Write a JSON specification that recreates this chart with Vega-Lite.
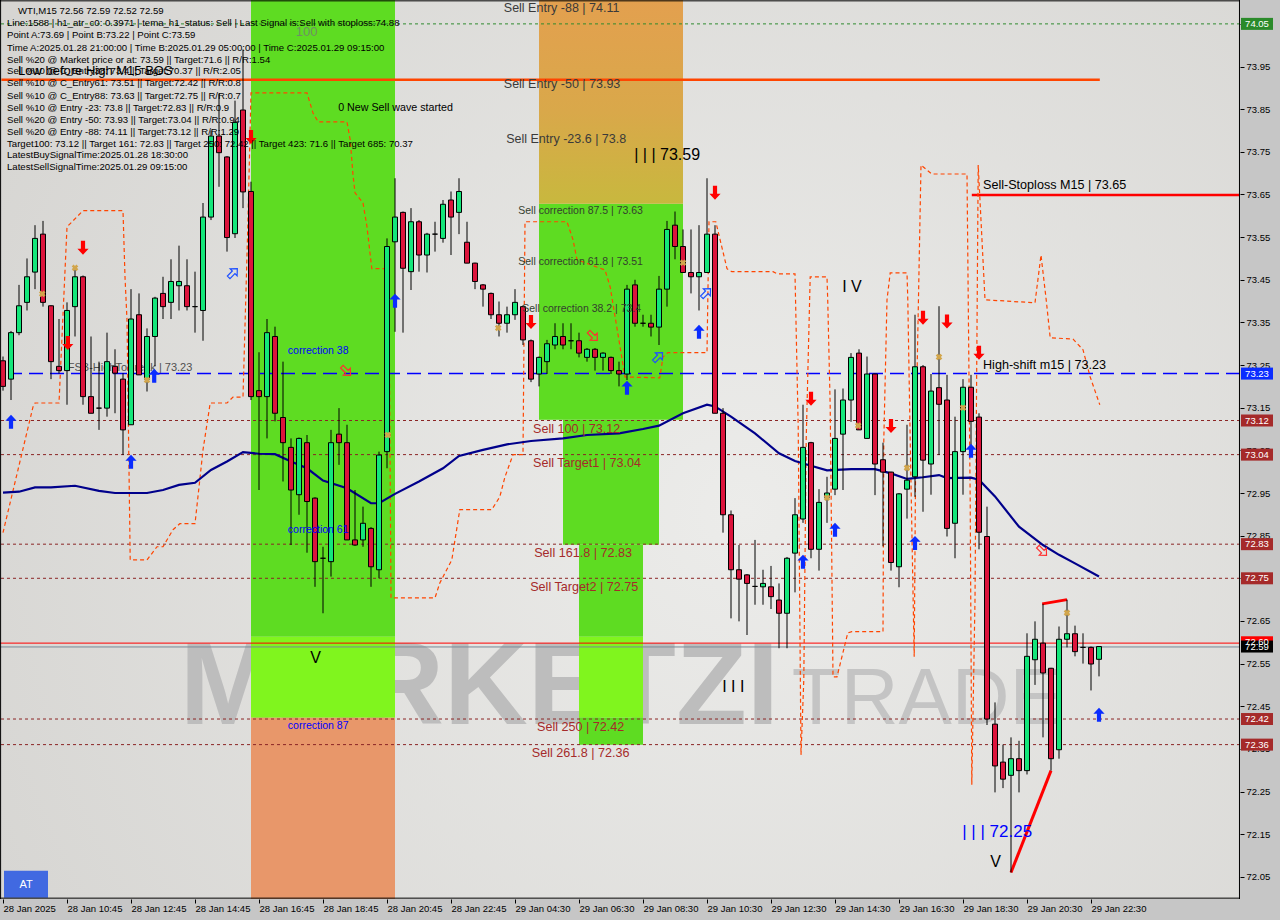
{
"$schema":"https://vega.github.io/schema/vega-lite/v6.json",
"width":1240,"height":899,
"autosize":{"type":"none"},
"padding":{"left":0,"top":0,"right":40,"bottom":21},
"background":"#c6c6c6",
"config":{"view":{"fill":"#dcdbd8","stroke":null},"font":"Liberation Sans","scale":{"continuousPadding":0}},
"datasets":{
"candles":[
{"i":0,"o":73.26,"h":73.27,"l":73.19,"c":73.2},
{"i":1,"o":73.217,"h":73.33,"l":73.168,"c":73.326},
{"i":2,"o":73.326,"h":73.438,"l":73.32,"c":73.389},
{"i":3,"o":73.397,"h":73.5,"l":73.378,"c":73.457},
{"i":4,"o":73.468,"h":73.578,"l":73.428,"c":73.547},
{"i":5,"o":73.557,"h":73.588,"l":73.387,"c":73.397},
{"i":6,"o":73.389,"h":73.39,"l":73.217,"c":73.258},
{"i":7,"o":73.247,"h":73.358,"l":73.23,"c":73.237},
{"i":8,"o":73.237,"h":73.397,"l":73.157,"c":73.378},
{"i":9,"o":73.387,"h":73.473,"l":73.317,"c":73.457},
{"i":10,"o":73.457,"h":73.46,"l":73.157,"c":73.176},
{"i":11,"o":73.176,"h":73.317,"l":73.137,"c":73.137},
{"i":12,"o":73.149,"h":73.258,"l":73.098,"c":73.149},
{"i":13,"o":73.149,"h":73.326,"l":73.129,"c":73.258},
{"i":14,"o":73.247,"h":73.287,"l":73.137,"c":73.231},
{"i":15,"o":73.217,"h":73.231,"l":73.039,"c":73.098},
{"i":16,"o":73.11,"h":73.428,"l":73.11,"c":73.358},
{"i":17,"o":73.368,"h":73.418,"l":73.227,"c":73.227},
{"i":18,"o":73.217,"h":73.336,"l":73.188,"c":73.317},
{"i":19,"o":73.317,"h":73.41,"l":73.247,"c":73.407},
{"i":20,"o":73.418,"h":73.457,"l":73.358,"c":73.387},
{"i":21,"o":73.397,"h":73.498,"l":73.358,"c":73.446},
{"i":22,"o":73.436,"h":73.53,"l":73.378,"c":73.446},
{"i":23,"o":73.436,"h":73.498,"l":73.378,"c":73.387},
{"i":24,"o":73.387,"h":73.469,"l":73.326,"c":73.387},
{"i":25,"o":73.378,"h":73.63,"l":73.307,"c":73.597},
{"i":26,"o":73.597,"h":73.8,"l":73.59,"c":73.787},
{"i":27,"o":73.787,"h":73.886,"l":73.668,"c":73.748},
{"i":28,"o":73.738,"h":73.74,"l":73.516,"c":73.549},
{"i":29,"o":73.558,"h":73.87,"l":73.548,"c":73.819},
{"i":30,"o":73.848,"h":73.99,"l":73.618,"c":73.656},
{"i":31,"o":73.657,"h":73.68,"l":73.168,"c":73.176},
{"i":32,"o":73.19,"h":73.28,"l":72.957,"c":73.176},
{"i":33,"o":73.176,"h":73.358,"l":73.078,"c":73.326},
{"i":34,"o":73.317,"h":73.34,"l":73.118,"c":73.137},
{"i":35,"o":73.127,"h":73.258,"l":72.977,"c":73.068},
{"i":36,"o":73.057,"h":73.078,"l":72.828,"c":72.957},
{"i":37,"o":72.946,"h":73.08,"l":72.899,"c":73.078},
{"i":38,"o":73.068,"h":73.086,"l":72.81,"c":72.93},
{"i":39,"o":72.938,"h":72.94,"l":72.73,"c":72.789},
{"i":40,"o":72.797,"h":72.824,"l":72.668,"c":72.797},
{"i":41,"o":72.789,"h":73.098,"l":72.754,"c":73.068},
{"i":42,"o":73.088,"h":73.149,"l":73.016,"c":73.068},
{"i":43,"o":73.068,"h":73.11,"l":72.84,"c":72.84},
{"i":44,"o":72.84,"h":72.957,"l":72.826,"c":72.828},
{"i":45,"o":72.84,"h":72.918,"l":72.824,"c":72.879},
{"i":46,"o":72.867,"h":72.87,"l":72.73,"c":72.777},
{"i":47,"o":72.77,"h":73.047,"l":72.75,"c":73.039},
{"i":48,"o":73.047,"h":73.547,"l":73.008,"c":73.528},
{"i":49,"o":73.539,"h":73.688,"l":73.328,"c":73.597},
{"i":50,"o":73.608,"h":73.61,"l":73.326,"c":73.477},
{"i":51,"o":73.469,"h":73.618,"l":73.426,"c":73.586},
{"i":52,"o":73.586,"h":73.59,"l":73.469,"c":73.508},
{"i":53,"o":73.508,"h":73.56,"l":73.467,"c":73.557},
{"i":54,"o":73.557,"h":73.586,"l":73.516,"c":73.557},
{"i":55,"o":73.547,"h":73.637,"l":73.537,"c":73.627},
{"i":56,"o":73.637,"h":73.657,"l":73.508,"c":73.597},
{"i":57,"o":73.608,"h":73.688,"l":73.557,"c":73.657},
{"i":58,"o":73.538,"h":73.586,"l":73.489,"c":73.489},
{"i":59,"o":73.489,"h":73.49,"l":73.428,"c":73.446},
{"i":60,"o":73.438,"h":73.44,"l":73.387,"c":73.428},
{"i":61,"o":73.418,"h":73.42,"l":73.358,"c":73.368},
{"i":62,"o":73.368,"h":73.399,"l":73.317,"c":73.348},
{"i":63,"o":73.348,"h":73.387,"l":73.326,"c":73.368},
{"i":64,"o":73.368,"h":73.428,"l":73.356,"c":73.397},
{"i":65,"o":73.387,"h":73.39,"l":73.297,"c":73.309},
{"i":66,"o":73.307,"h":73.31,"l":73.21,"c":73.217},
{"i":67,"o":73.229,"h":73.27,"l":73.2,"c":73.268},
{"i":68,"o":73.258,"h":73.309,"l":73.229,"c":73.3},
{"i":69,"o":73.297,"h":73.348,"l":73.287,"c":73.317},
{"i":70,"o":73.317,"h":73.348,"l":73.287,"c":73.297},
{"i":71,"o":73.307,"h":73.348,"l":73.287,"c":73.307},
{"i":72,"o":73.307,"h":73.326,"l":73.268,"c":73.278},
{"i":73,"o":73.268,"h":73.29,"l":73.258,"c":73.287},
{"i":74,"o":73.287,"h":73.29,"l":73.237,"c":73.268},
{"i":75,"o":73.268,"h":73.28,"l":73.237,"c":73.278},
{"i":76,"o":73.268,"h":73.27,"l":73.229,"c":73.237},
{"i":77,"o":73.237,"h":73.258,"l":73.2,"c":73.229},
{"i":78,"o":73.229,"h":73.438,"l":73.215,"c":73.428},
{"i":79,"o":73.438,"h":73.45,"l":73.34,"c":73.348},
{"i":80,"o":73.348,"h":73.368,"l":73.34,"c":73.348},
{"i":81,"o":73.348,"h":73.368,"l":73.317,"c":73.339},
{"i":82,"o":73.339,"h":73.459,"l":73.297,"c":73.428},
{"i":83,"o":73.428,"h":73.588,"l":73.387,"c":73.568},
{"i":84,"o":73.578,"h":73.61,"l":73.498,"c":73.528},
{"i":85,"o":73.528,"h":73.568,"l":73.467,"c":73.467},
{"i":86,"o":73.467,"h":73.568,"l":73.418,"c":73.457},
{"i":87,"o":73.457,"h":73.578,"l":73.378,"c":73.467},
{"i":88,"o":73.467,"h":73.688,"l":73.467,"c":73.557},
{"i":89,"o":73.557,"h":73.578,"l":73.137,"c":73.137},
{"i":90,"o":73.137,"h":73.149,"l":72.857,"c":72.899},
{"i":91,"o":72.899,"h":72.909,"l":72.656,"c":72.77},
{"i":92,"o":72.77,"h":72.828,"l":72.649,"c":72.748},
{"i":93,"o":72.758,"h":72.76,"l":72.617,"c":72.738},
{"i":94,"o":72.731,"h":72.84,"l":72.688,"c":72.731},
{"i":95,"o":72.73,"h":72.77,"l":72.688,"c":72.738},
{"i":96,"o":72.73,"h":72.779,"l":72.678,"c":72.707},
{"i":97,"o":72.699,"h":72.738,"l":72.586,"c":72.668},
{"i":98,"o":72.668,"h":72.8,"l":72.586,"c":72.797},
{"i":99,"o":72.809,"h":72.938,"l":72.717,"c":72.899},
{"i":100,"o":72.889,"h":73.157,"l":72.88,"c":73.057},
{"i":101,"o":73.068,"h":73.07,"l":72.797,"c":72.818},
{"i":102,"o":72.818,"h":72.959,"l":72.768,"c":72.928},
{"i":103,"o":72.94,"h":72.988,"l":72.88,"c":72.95},
{"i":104,"o":72.959,"h":73.193,"l":72.945,"c":73.078},
{"i":105,"o":73.088,"h":73.195,"l":72.957,"c":73.168},
{"i":106,"o":73.168,"h":73.278,"l":73.117,"c":73.268},
{"i":107,"o":73.278,"h":73.287,"l":73.098,"c":73.098},
{"i":108,"o":73.078,"h":73.27,"l":73.078,"c":73.229},
{"i":109,"o":73.229,"h":73.23,"l":72.945,"c":73.018},
{"i":110,"o":73.028,"h":73.068,"l":72.825,"c":72.999},
{"i":111,"o":72.999,"h":73.0,"l":72.768,"c":72.787},
{"i":112,"o":72.777,"h":72.95,"l":72.729,"c":72.948},
{"i":113,"o":72.959,"h":73.11,"l":72.89,"c":72.98},
{"i":114,"o":72.988,"h":73.368,"l":72.941,"c":73.246},
{"i":115,"o":73.246,"h":73.25,"l":72.906,"c":73.027},
{"i":116,"o":73.018,"h":73.229,"l":72.946,"c":73.189},
{"i":117,"o":73.197,"h":73.388,"l":73.039,"c":73.158},
{"i":118,"o":73.168,"h":73.227,"l":72.848,"c":72.867},
{"i":119,"o":72.879,"h":73.129,"l":72.797,"c":73.047},
{"i":120,"o":73.047,"h":73.217,"l":72.946,"c":73.198},
{"i":121,"o":73.198,"h":73.227,"l":73.055,"c":73.118},
{"i":122,"o":73.128,"h":73.137,"l":72.818,"c":72.858},
{"i":123,"o":72.848,"h":72.918,"l":72.406,"c":72.42},
{"i":124,"o":72.408,"h":72.459,"l":72.248,"c":72.31},
{"i":125,"o":72.319,"h":72.36,"l":72.258,"c":72.279},
{"i":126,"o":72.288,"h":72.377,"l":72.06,"c":72.327},
{"i":127,"o":72.327,"h":72.369,"l":72.248,"c":72.299},
{"i":128,"o":72.299,"h":72.621,"l":72.29,"c":72.567},
{"i":129,"o":72.559,"h":72.649,"l":72.5,"c":72.607},
{"i":130,"o":72.598,"h":72.69,"l":72.377,"c":72.528},
{"i":131,"o":72.539,"h":72.54,"l":72.299,"c":72.327},
{"i":132,"o":72.348,"h":72.637,"l":72.327,"c":72.607},
{"i":133,"o":72.607,"h":72.7,"l":72.588,"c":72.62},
{"i":134,"o":72.62,"h":72.639,"l":72.567,"c":72.578},
{"i":135,"o":72.588,"h":72.621,"l":72.55,"c":72.588},
{"i":136,"o":72.588,"h":72.59,"l":72.487,"c":72.549},
{"i":137,"o":72.56,"h":72.59,"l":72.52,"c":72.59}
],
"ma":[
{"i":0,"p":72.951},{"i":2,"p":72.953},{"i":4,"p":72.963},{"i":6,"p":72.963},{"i":9,"p":72.967},{"i":12,"p":72.955},{"i":14,"p":72.95},{"i":16,"p":72.95},{"i":18,"p":72.95},{"i":20,"p":72.957},{"i":22,"p":72.969},{"i":24,"p":72.974},{"i":26,"p":73.004},{"i":28,"p":73.024},{"i":30,"p":73.046},{"i":32,"p":73.042},{"i":34,"p":73.041},{"i":36,"p":73.024},{"i":38,"p":73.008},{"i":40,"p":72.979},{"i":43,"p":72.961},{"i":46,"p":72.926},{"i":47,"p":72.926},{"i":49,"p":72.948},{"i":52,"p":72.977},{"i":55,"p":73.008},{"i":57,"p":73.037},{"i":60,"p":73.051},{"i":63,"p":73.064},{"i":66,"p":73.072},{"i":70,"p":73.078},{"i":73,"p":73.086},{"i":77,"p":73.09},{"i":80,"p":73.1},{"i":82,"p":73.108},{"i":85,"p":73.137},{"i":88,"p":73.157},{"i":89,"p":73.153},{"i":91,"p":73.129},{"i":94,"p":73.09},{"i":97,"p":73.043},{"i":99,"p":73.025},{"i":101,"p":73.014},{"i":103,"p":73.003},{"i":106,"p":73.006},{"i":109,"p":73.006},{"i":111,"p":72.996},{"i":113,"p":72.983},{"i":115,"p":72.987},{"i":117,"p":72.992},{"i":118,"p":72.985},{"i":121,"p":72.986},{"i":122,"p":72.981},{"i":124,"p":72.942},{"i":127,"p":72.871},{"i":130,"p":72.828},{"i":132,"p":72.805},{"i":134,"p":72.785},{"i":137,"p":72.754}
],
"trail":[
{"i":0,"p":72.857},{"i":3.75,"p":73.152},{"i":4,"p":73.161},{"i":7,"p":73.161},{"i":8,"p":73.574},{"i":10,"p":73.612},{"i":15,"p":73.612},{"i":15.25,"p":73.457},{"i":15.5,"p":73.356},{"i":15.9,"p":72.793},{"i":18,"p":72.793},{"i":19.25,"p":72.824},{"i":20,"p":72.824},{"i":21.25,"p":72.864},{"i":22.1,"p":72.878},{"i":24,"p":72.878},{"i":24.6,"p":72.981},{"i":25,"p":73.051},{"i":25.9,"p":73.161},{"i":28,"p":73.161},{"i":28.75,"p":73.175},{"i":30,"p":73.175},{"i":30.6,"p":73.574},{"i":31,"p":73.888},{"i":38,"p":73.888},{"i":38.75,"p":73.841},{"i":39.4,"p":73.82},{"i":43,"p":73.82},{"i":43.4,"p":73.778},{"i":43.75,"p":73.696},{"i":44,"p":73.654},{"i":45,"p":73.63},{"i":45.5,"p":73.574},{"i":46.1,"p":73.476},{"i":47.9,"p":73.476},{"i":48.25,"p":73.403},{"i":48.5,"p":72.704},{"i":54,"p":72.704},{"i":54.6,"p":72.739},{"i":56.1,"p":72.793},{"i":56.5,"p":72.84},{"i":57.1,"p":72.911},{"i":61.1,"p":72.911},{"i":62.1,"p":72.941},{"i":62.75,"p":72.988},{"i":63.75,"p":73.04},{"i":65,"p":73.04},{"i":65.25,"p":73.586},{"i":70.5,"p":73.586},{"i":71.25,"p":73.544},{"i":71.75,"p":73.497},{"i":75.25,"p":73.473},{"i":75.9,"p":73.433},{"i":77.4,"p":73.262},{"i":77.75,"p":73.222},{"i":82.1,"p":73.22},{"i":82.5,"p":73.269},{"i":83.1,"p":73.279},{"i":88,"p":73.279},{"i":88.25,"p":73.586},{"i":89.1,"p":73.586},{"i":90.5,"p":73.476},{"i":91.1,"p":73.469},{"i":96.25,"p":73.469},{"i":96.75,"p":73.464},{"i":99,"p":73.464},{"i":99.4,"p":73.105},{"i":99.75,"p":72.336},{"i":100.1,"p":72.512},{"i":100.4,"p":73.075},{"i":100.9,"p":73.457},{"i":103,"p":73.457},{"i":103.1,"p":73.396},{"i":103.4,"p":73.152},{"i":103.75,"p":72.519},{"i":104.25,"p":72.519},{"i":105.6,"p":72.622},{"i":106.1,"p":72.625},{"i":110,"p":72.625},{"i":110.1,"p":73.075},{"i":110.5,"p":73.403},{"i":110.9,"p":73.466},{"i":113,"p":73.466},{"i":113.1,"p":73.403},{"i":113.4,"p":73.075},{"i":113.9,"p":72.566},{"i":114.1,"p":73.075},{"i":114.75,"p":73.719},{"i":116.1,"p":73.698},{"i":120.5,"p":73.698},{"i":120.9,"p":72.934},{"i":121.1,"p":72.266},{"i":121.5,"p":72.7},{"i":121.9,"p":73.719},{"i":122.75,"p":73.403},{"i":129,"p":73.396},{"i":129.75,"p":73.508},{"i":130.4,"p":73.403},{"i":130.9,"p":73.314},{"i":133.75,"p":73.311},{"i":135,"p":73.286},{"i":135.9,"p":73.222},{"i":137.1,"p":73.157}
],
"zones":[
{"i0":31,"i1":49,"p0":72.6127,"p1":74.106,"kind":"green"},
{"i0":31,"i1":49,"p0":72.4228,"p1":72.6127,"kind":"lime"},
{"i0":31,"i1":49,"p0":71.998,"p1":72.4228,"kind":"orange"},
{"i0":67,"i1":85,"p0":73.1215,"p1":73.628,"kind":"green"},
{"i0":70,"i1":82,"p0":72.8285,"p1":73.1215,"kind":"green"},
{"i0":72,"i1":80,"p0":72.6127,"p1":72.8285,"kind":"green"},
{"i0":72,"i1":80,"p0":72.4228,"p1":72.6127,"kind":"lime"},
{"i0":72,"i1":80,"p0":72.3595,"p1":72.4228,"kind":"green"}
],
"labels":[
{"i":1.875,"p":74.081,"text":"WTI,M15  72.56 72.59 72.52 72.59","kind":"info"},
{"i":0.5,"p":74.052,"text":"Line:1588 | h1_atr_c0: 0.3971 | tema_h1_status: Sell | Last Signal is:Sell with stoploss:74.88","kind":"info"},
{"i":0.5,"p":74.0235,"text":"Point A:73.69 | Point B:73.22 | Point C:73.59","kind":"info"},
{"i":0.5,"p":73.9945,"text":"Time A:2025.01.28 21:00:00 | Time B:2025.01.29 05:00:00 | Time C:2025.01.29 09:15:00","kind":"info"},
{"i":0.5,"p":73.9663,"text":"Sell %20 @ Market price or at: 73.59 || Target:71.6 || R/R:1.54","kind":"info"},
{"i":0.5,"p":73.9391,"text":"Sell %10 @ C_Entry38: 73.4 || Target:70.37 || R/R:2.05","kind":"info"},
{"i":0.5,"p":73.911,"text":"Sell %10 @ C_Entry61: 73.51 || Target:72.42 || R/R:0.8","kind":"info"},
{"i":0.5,"p":73.8819,"text":"Sell %10 @ C_Entry88: 73.63 || Target:72.75 || R/R:0.7","kind":"info"},
{"i":0.5,"p":73.8538,"text":"Sell %10 @ Entry -23: 73.8 || Target:72.83 || R/R:0.9","kind":"info"},
{"i":0.5,"p":73.8256,"text":"Sell %20 @ Entry -50: 73.93 || Target:73.04 || R/R:0.94","kind":"info"},
{"i":0.5,"p":73.7975,"text":"Sell %20 @ Entry -88: 74.11 || Target:73.12 || R/R:1.29","kind":"info"},
{"i":0.5,"p":73.7694,"text":"Target100: 73.12 || Target 161: 72.83 || Target 250: 72.42 || Target 423: 71.6 || Target 685: 70.37","kind":"info"},
{"i":0.5,"p":73.7422,"text":"LatestBuySignalTime:2025.01.28 18:30:00","kind":"info"},
{"i":0.5,"p":73.714,"text":"LatestSellSignalTime:2025.01.29 09:15:00","kind":"info"},
{"i":1.875,"p":73.94,"text":"Low before High  M15 BOS","kind":"big"},
{"i":36.6,"p":74.031,"text":"100","kind":"hundred"},
{"i":41.9,"p":73.853,"text":"0 New Sell wave started","kind":"wave0"},
{"i":62.6,"p":74.088,"text":"Sell Entry -88 | 74.11","kind":"zone"},
{"i":62.6,"p":73.909,"text":"Sell Entry -50 | 73.93","kind":"zone"},
{"i":62.9,"p":73.78,"text":"Sell Entry -23.6 | 73.8","kind":"zone"},
{"i":78.9,"p":73.743,"text":"| | | 73.59","kind":"wave"},
{"i":64.4,"p":73.612,"text":"Sell correction 87.5 | 73.63","kind":"corr"},
{"i":64.4,"p":73.492,"text":"Sell correction 61.8 | 73.51","kind":"corr"},
{"i":64.9,"p":73.382,"text":"Sell correction 38.2 | 73.4","kind":"corr"},
{"i":66.25,"p":73.1,"text":"Sell 100 | 73.12","kind":"target"},
{"i":66.25,"p":73.021,"text":"Sell Target1 | 73.04","kind":"target"},
{"i":66.4,"p":72.81,"text":"Sell 161.8 | 72.83","kind":"target"},
{"i":65.9,"p":72.73,"text":"Sell Target2 | 72.75","kind":"target"},
{"i":66.75,"p":72.402,"text":"Sell  250 | 72.42","kind":"target"},
{"i":66.1,"p":72.341,"text":"Sell  261.8 | 72.36","kind":"target"},
{"i":35.6,"p":73.283,"text":"correction 38","kind":"blue"},
{"i":35.6,"p":72.864,"text":"correction 61","kind":"blue"},
{"i":35.6,"p":72.404,"text":"correction 87","kind":"blue"},
{"i":38.4,"p":72.564,"text":"V","kind":"wave"},
{"i":104.9,"p":73.433,"text":"I V","kind":"wave"},
{"i":89.9,"p":72.496,"text":"I I I","kind":"wave"},
{"i":119.9,"p":72.156,"text":"| | | 72.25","kind":"wblue"},
{"i":123.4,"p":72.085,"text":"V","kind":"wave"},
{"i":122.5,"p":73.251,"text":"High-shift m15 | 73.23","kind":"note"},
{"i":122.5,"p":73.673,"text":"Sell-Stoploss M15 | 73.65","kind":"note"}
],
"arrowsUp":[{"i":1,"p":73.117},{"i":16,"p":73.023},{"i":18.9,"p":73.225},{"i":49,"p":73.401},{"i":78,"p":73.197},{"i":87,"p":73.328},{"i":100,"p":72.789},{"i":104,"p":72.864},{"i":114,"p":72.833},{"i":121,"p":73.049},{"i":137,"p":72.43}],
"arrowsDown":[{"i":10,"p":73.525},{"i":8.1,"p":73.302},{"i":31,"p":73.785},{"i":66,"p":73.351},{"i":89,"p":73.654},{"i":101,"p":73.171},{"i":111,"p":73.107},{"i":115,"p":73.361},{"i":118,"p":73.352},{"i":122,"p":73.279}],
"hollowBlue":[{"i":28.75,"p":73.466},{"i":81.9,"p":73.269},{"i":87.9,"p":73.419}],
"hollowRed":[{"i":42.9,"p":73.236},{"i":73.75,"p":73.318},{"i":129.9,"p":72.814}],
"stars":[{"i":4.9,"p":73.417},{"i":9,"p":73.478},{"i":18,"p":73.215},{"i":48.1,"p":73.086},{"i":61.9,"p":73.337},{"i":85,"p":73.49},{"i":103,"p":72.939},{"i":106.9,"p":73.108},{"i":113,"p":73.009},{"i":117,"p":73.269},{"i":120,"p":73.15},{"i":133,"p":72.669}],
"boxes":[{"p":74.05,"kind":"green"},{"p":73.23,"kind":"blue"},{"p":73.12,"kind":"brown"},{"p":73.04,"kind":"brown"},{"p":72.83,"kind":"brown"},{"p":72.75,"kind":"brown"},{"p":72.42,"kind":"brown"},{"p":72.36,"kind":"brown"},{"p":72.6,"kind":"red"},{"p":72.59,"kind":"black"}]
},
"layer":[
{"data":{"values":[{"i":0}]},
 "mark":{"type":"rect","color":{"gradient":"radial","x1":0.6,"y1":0.55,"r1":0,"x2":0.6,"y2":0.55,"r2":0.7,"stops":[{"offset":0,"color":"#ececea"},{"offset":1,"color":"#d6d5d2"}]}},
 "encoding":{
  "x":{"datum":-0.375,"type":"quantitative","scale":{"domain":[-0.375,154.625],"nice":false,"zero":false,"padding":0},
   "axis":{"orient":"bottom","values":[0,8,16,24,32,40,48,56,64,72,80,88,96,104,112,120,128,136],
   "labelExpr":"datum.value==0?'28 Jan 2025':datum.value==8?'28 Jan 10:45':datum.value==16?'28 Jan 12:45':datum.value==24?'28 Jan 14:45':datum.value==32?'28 Jan 16:45':datum.value==40?'28 Jan 18:45':datum.value==48?'28 Jan 20:45':datum.value==56?'28 Jan 22:45':datum.value==64?'29 Jan 04:30':datum.value==72?'29 Jan 06:30':datum.value==80?'29 Jan 08:30':datum.value==88?'29 Jan 10:30':datum.value==96?'29 Jan 12:30':datum.value==104?'29 Jan 14:30':datum.value==112?'29 Jan 16:30':datum.value==120?'29 Jan 18:30':datum.value==128?'29 Jan 20:30':'29 Jan 22:30'",
   "labelAlign":"left","labelBaseline":"top","labelPadding":0,"tickSize":4,"tickColor":"#000000","labelColor":"#000000","labelFontSize":9.5,"labelFont":"Liberation Sans","domain":false,"grid":false,"title":null,"labelOverlap":false,"labelFlush":false}},
  "x2":{"datum":154.625},
  "y":{"datum":71.998,"type":"quantitative","scale":{"domain":[71.998,74.106],"nice":false,"zero":false,"padding":0},
   "axis":{"orient":"right","values":[72.05,72.15,72.25,72.35,72.45,72.55,72.65,72.75,72.85,72.95,73.05,73.15,73.25,73.35,73.45,73.55,73.65,73.75,73.85,73.95,74.05],
   "format":".2f","tickSize":4,"tickColor":"#000000","labelColor":"#000000","labelPadding":2,"labelFontSize":9.5,"labelFont":"Liberation Sans","domain":false,"grid":false,"title":null,"labelOverlap":false}},
  "y2":{"datum":74.106}}},
{"data":{"values":[{"i":22.1,"p":72.409,"t":"MARKETZI"}]},
 "mark":{"type":"text","align":"left","baseline":"alphabetic","fontSize":116,"fontWeight":"bold","font":"Liberation Sans","color":"#bdbdbd"},
 "encoding":{"x":{"field":"i","type":"quantitative","axis":null},"y":{"field":"p","type":"quantitative","axis":null},"text":{"field":"t"}}},
{"data":{"values":[{"i":98.6,"p":72.409,"t":"TRADE"}]},
 "mark":{"type":"text","align":"left","baseline":"alphabetic","fontSize":80,"fontWeight":"normal","font":"Liberation Sans","color":"#c4c4c4"},
 "encoding":{"x":{"field":"i","type":"quantitative","axis":null},"y":{"field":"p","type":"quantitative","axis":null},"text":{"field":"t"}}},
{"data":{"name":"zones"},
 "mark":{"type":"rect"},
 "encoding":{"x":{"field":"i0","type":"quantitative","axis":null},"x2":{"field":"i1"},"y":{"field":"p0","type":"quantitative","axis":null},"y2":{"field":"p1"},
 "color":{"field":"kind","type":"nominal","scale":{"domain":["green","lime","orange"],"range":["#5edc22","#80f51e","#e8976a"]},"legend":null}}},
{"data":{"values":[{"i0":67,"i1":85,"p0":73.628,"p1":74.106}]},
 "mark":{"type":"rect","color":{"gradient":"linear","x1":0,"y1":0,"x2":0,"y2":1,"stops":[{"offset":0,"color":"#e3a04f"},{"offset":0.55,"color":"#d9a84a"},{"offset":1,"color":"#c8b83e"}]}},
 "encoding":{"x":{"field":"i0","type":"quantitative","axis":null},"x2":{"field":"i1"},"y":{"field":"p0","type":"quantitative","axis":null},"y2":{"field":"p1"}}},
{"data":{"values":[{"p":73.12},{"p":73.04},{"p":72.83},{"p":72.75},{"p":72.42},{"p":72.36}]},
 "mark":{"type":"rule","color":"#8b2525","strokeDash":[3,3],"strokeWidth":1},
 "encoding":{"y":{"field":"p","type":"quantitative","axis":null}}},
{"data":{"values":[{"p":74.05}]},
 "mark":{"type":"rule","color":"#2f8a2f","strokeDash":[3,3],"strokeWidth":1},
 "encoding":{"y":{"field":"p","type":"quantitative","axis":null}}},
{"data":{"values":[{"p":73.23}]},
 "mark":{"type":"rule","color":"#0000ff","strokeDash":[14,7],"strokeWidth":1.5},
 "encoding":{"y":{"field":"p","type":"quantitative","axis":null}}},
{"data":{"values":[{"p":72.598}]},
 "mark":{"type":"rule","color":"#ff0000","strokeWidth":1},
 "encoding":{"y":{"field":"p","type":"quantitative","axis":null}}},
{"data":{"values":[{"p":72.589}]},
 "mark":{"type":"rule","color":"#7a8896","strokeWidth":1},
 "encoding":{"y":{"field":"p","type":"quantitative","axis":null}}},
{"data":{"values":[{"i0":-0.2,"i1":137.1,"p":73.919}]},
 "mark":{"type":"rule","color":"#ff4500","strokeWidth":2.5},
 "encoding":{"x":{"field":"i0","type":"quantitative","axis":null},"x2":{"field":"i1"},"y":{"field":"p","type":"quantitative","axis":null}}},
{"data":{"values":[{"i0":121.1,"i1":154.5,"p":73.649}]},
 "mark":{"type":"rule","color":"#ff0000","strokeWidth":2.5},
 "encoding":{"x":{"field":"i0","type":"quantitative","axis":null},"x2":{"field":"i1"},"y":{"field":"p","type":"quantitative","axis":null}}},
{"data":{"name":"trail"},
 "mark":{"type":"line","color":"#ff4500","strokeDash":[4,3],"strokeWidth":1.2},
 "encoding":{"x":{"field":"i","type":"quantitative","axis":null},"y":{"field":"p","type":"quantitative","axis":null}}},
{"data":{"name":"ma"},
 "mark":{"type":"line","color":"#00008b","strokeWidth":2.2},
 "encoding":{"x":{"field":"i","type":"quantitative","axis":null},"y":{"field":"p","type":"quantitative","axis":null}}},
{"data":{"values":[{"i":8.1,"p":73.244,"t":"FSB-HighToBreak | 73.23"}]},
 "mark":{"type":"text","align":"left","baseline":"middle","fontSize":11,"color":"#505050"},
 "encoding":{"x":{"field":"i","type":"quantitative","axis":null},"y":{"field":"p","type":"quantitative","axis":null},"text":{"field":"t"}}},
{"data":{"values":[{"i0":126,"p0":72.06,"i1":131,"p1":72.299},{"i0":129.9,"p0":72.69,"i1":133,"p1":72.7}]},
 "mark":{"type":"rule","color":"#ff0000","strokeWidth":3},
 "encoding":{"x":{"field":"i0","type":"quantitative","axis":null},"x2":{"field":"i1"},"y":{"field":"p0","type":"quantitative","axis":null},"y2":{"field":"p1"}}},
{"data":{"name":"candles"},
 "mark":{"type":"rule","color":"#000000","strokeWidth":1},
 "encoding":{"x":{"field":"i","type":"quantitative","axis":null},"y":{"field":"l","type":"quantitative","axis":null},"y2":{"field":"h"}}},
{"data":{"name":"candles"},
 "mark":{"type":"bar","width":5,"stroke":"#000000","strokeWidth":1},
 "encoding":{"x":{"field":"i","type":"quantitative","axis":null},"y":{"field":"o","type":"quantitative","axis":null},"y2":{"field":"c"},
  "color":{"condition":{"test":"datum.c >= datum.o","value":"#14e67a"},"value":"#dc143c"}}},
{"data":{"name":"stars"},
 "mark":{"type":"point","shape":"cross","angle":45,"filled":true,"color":"#d2a64c","size":45,"opacity":1},
 "encoding":{"x":{"field":"i","type":"quantitative","axis":null},"y":{"field":"p","type":"quantitative","axis":null}}},
{"data":{"name":"arrowsUp"},
 "mark":{"type":"point","shape":"M0,-1L0.8,-0.15L0.3,-0.15L0.3,1L-0.3,1L-0.3,-0.15L-0.8,-0.15Z","filled":true,"color":"#0a2cff","size":196,"opacity":1},
 "encoding":{"x":{"field":"i","type":"quantitative","axis":null},"y":{"field":"p","type":"quantitative","axis":null}}},
{"data":{"name":"arrowsDown"},
 "mark":{"type":"point","shape":"M0,-1L0.8,-0.15L0.3,-0.15L0.3,1L-0.3,1L-0.3,-0.15L-0.8,-0.15Z","angle":180,"filled":true,"color":"#ff0000","size":196,"opacity":1},
 "encoding":{"x":{"field":"i","type":"quantitative","axis":null},"y":{"field":"p","type":"quantitative","axis":null}}},
{"data":{"name":"hollowBlue"},
 "mark":{"type":"point","shape":"M0,-1L0.8,-0.15L0.3,-0.15L0.3,1L-0.3,1L-0.3,-0.15L-0.8,-0.15Z","angle":45,"filled":false,"color":"#1e50ff","strokeWidth":1.2,"size":150,"opacity":1},
 "encoding":{"x":{"field":"i","type":"quantitative","axis":null},"y":{"field":"p","type":"quantitative","axis":null}}},
{"data":{"name":"hollowRed"},
 "mark":{"type":"point","shape":"M0,-1L0.8,-0.15L0.3,-0.15L0.3,1L-0.3,1L-0.3,-0.15L-0.8,-0.15Z","angle":135,"filled":false,"color":"#ff3030","strokeWidth":1.2,"size":150,"opacity":1},
 "encoding":{"x":{"field":"i","type":"quantitative","axis":null},"y":{"field":"p","type":"quantitative","axis":null}}},
{"data":{"name":"labels"},
 "mark":{"type":"text","align":"left","baseline":"middle","font":"Liberation Sans"},
 "encoding":{"x":{"field":"i","type":"quantitative","axis":null},"y":{"field":"p","type":"quantitative","axis":null},"text":{"field":"text"},
  "color":{"field":"kind","type":"nominal","scale":{"domain":["info","big","zone","corr","target","blue","note","wave","wblue","wave0","hundred"],"range":["#000000","#000000","#3a3a3a","#34402f","#a52a2a","#0000ff","#000000","#000000","#0000ff","#000000","#6f8f62"]},"legend":null},
  "size":{"field":"kind","type":"nominal","scale":{"type":"ordinal","domain":["info","big","zone","corr","target","blue","note","wave","wblue","wave0","hundred"],"range":[9.6,13,12.5,10.5,12.6,10.5,12.6,16,17,10.7,13]},"legend":null}}},
{"data":{"values":[{"i0":0.125,"i1":5.625,"p0":72.0008,"p1":72.0641}]},
 "mark":{"type":"rect","color":"#4169e1"},
 "encoding":{"x":{"field":"i0","type":"quantitative","axis":null},"x2":{"field":"i1"},"y":{"field":"p0","type":"quantitative","axis":null},"y2":{"field":"p1"}}},
{"data":{"values":[{"i":2.875,"p":72.032,"t":"AT"}]},
 "mark":{"type":"text","align":"center","baseline":"middle","fontSize":11,"color":"#ffffff"},
 "encoding":{"x":{"field":"i","type":"quantitative","axis":null},"y":{"field":"p","type":"quantitative","axis":null},"text":{"field":"t"}}},
{"data":{"name":"boxes"},
 "mark":{"type":"point","shape":"M-1,-0.375L1,-0.375L1,0.375L-1,0.375Z","filled":true,"size":1024,"opacity":1},
 "encoding":{"x":{"datum":156.75,"type":"quantitative","axis":null},"y":{"field":"p","type":"quantitative","axis":null},
  "color":{"field":"kind","type":"nominal","scale":{"domain":["green","blue","brown","red","black"],"range":["#2a8a2a","#0a2cff","#a52a2a","#ff0000","#000000"]},"legend":null}}},
{"data":{"name":"boxes"},
 "mark":{"type":"text","align":"center","baseline":"middle","fontSize":9.5,"color":"#ffffff"},
 "encoding":{"x":{"datum":156.75,"type":"quantitative","axis":null},"y":{"field":"p","type":"quantitative","axis":null},"text":{"field":"p","type":"quantitative","format":".2f"}}},
{"data":{"values":[{"x":-0.3},{"x":154.56}]},
 "mark":{"type":"rule","color":"#000000","strokeWidth":1},
 "encoding":{"x":{"field":"x","type":"quantitative","axis":null}}},
{"data":{"values":[{"y":72.0},{"y":74.104}]},
 "mark":{"type":"rule","color":"#000000","strokeWidth":1},
 "encoding":{"y":{"field":"y","type":"quantitative","axis":null}}}
],
"resolve":{"scale":{"color":"independent","size":"independent"},"axis":{"x":"independent","y":"independent"}}
}
